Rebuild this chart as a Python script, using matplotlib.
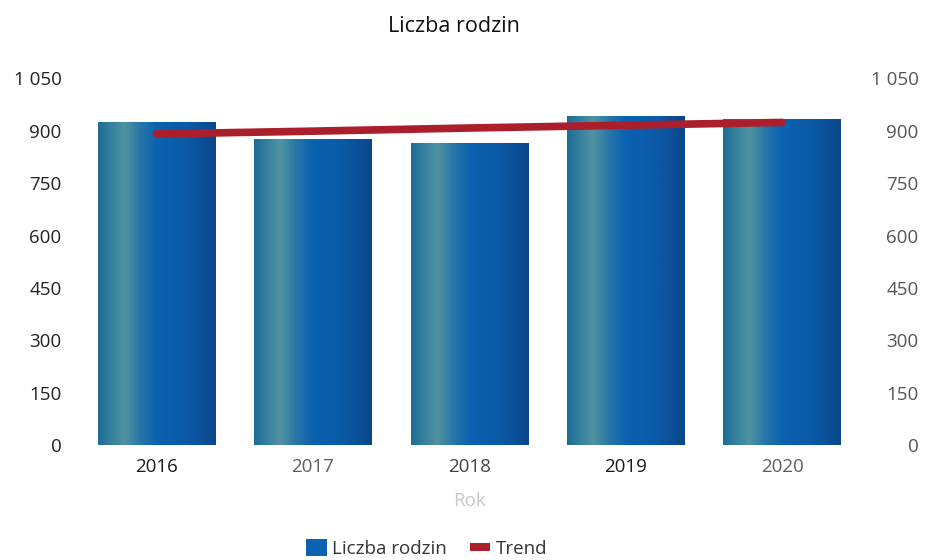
import numpy as np
import matplotlib
matplotlib.use("Agg")
import matplotlib.pyplot as plt
from matplotlib.colors import LinearSegmentedColormap
from matplotlib.patches import Patch

years = ["2016", "2017", "2018", "2019", "2020"]
families = [924, 876, 864, 941, 933]
trend = [891, 899, 908, 916, 924]
yticks = [0, 150, 300, 450, 600, 750, 900, 1050]
ytick_labels = ["0", "150", "300", "450", "600", "750", "900", "1 050"]

plt.rcParams['font.family'] = ['Open Sans', 'DejaVu Sans']

fig = plt.figure(figsize=(9.32, 5.60), dpi=100)
ax = fig.add_axes([0.084, 0.205, 0.839, 0.655])

x = np.arange(len(years))
width = 0.75
bars = ax.bar(x, families, width=width, color="none", edgecolor="none", zorder=2)

cmap = LinearSegmentedColormap.from_list(
    "cyl", [(0.0, "#1d6c96"), (0.1, "#347f9e"), (0.22, "#5093a0"), (0.35, "#2a78a8"),
            (0.5, "#0a62b0"), (0.75, "#0b5aa6"), (0.9, "#0b4f98"), (1.0, "#0a4688")])
grad = np.linspace(0, 1, 256).reshape(1, -1)
for b in bars:
    x0, y0 = b.get_x(), b.get_y()
    w, h = b.get_width(), b.get_height()
    im = ax.imshow(grad, cmap=cmap, aspect="auto", extent=[x0, x0 + w, y0, y0 + h],
                   zorder=2, interpolation="bicubic")
    im.set_clip_path(b)

ax.plot(x, trend, color="#ab1f2c", linewidth=5.5, solid_capstyle="round", zorder=3)

fs = 13.5
ax.set_xlim(-0.5, len(years) - 0.5)
ax.set_ylim(0, 1050)
ax.set_yticks(yticks)
ax.set_yticklabels(ytick_labels, fontsize=fs, color="#222222")
ax.set_xticks(x)
ax.set_xticklabels(years, fontsize=fs)
xcolors = ["#1a1a1a", "#5a6060", "#444444", "#1a1a1a", "#5a6060"]
for t, c in zip(ax.get_xticklabels(), xcolors):
    t.set_color(c)
ax.tick_params(axis="both", length=0, pad=9)
ax.tick_params(axis="y", pad=12)
for s in ax.spines.values():
    s.set_visible(False)
ax.set_xlabel("Rok", fontsize=fs, color="#c8c8c8", labelpad=12)

ax2 = ax.twinx()
ax2.set_ylim(0, 1050)
ax2.set_yticks(yticks)
ax2.set_yticklabels(ytick_labels, fontsize=fs, color="#555555", ha="right")
ax2.tick_params(axis="y", length=0, pad=42)
for s in ax2.spines.values():
    s.set_visible(False)

fig.text(0.487, 0.953, "Liczba rodzin", fontsize=15.5, color="#111111",
         ha="center", va="center")

handles = [Patch(facecolor="#0a62b0", edgecolor="none"),
           Patch(facecolor="#ab1f2c", edgecolor="none")]
leg = fig.legend(handles, ["Liczba rodzin", "Trend"], loc="lower center",
                 bbox_to_anchor=(0.458, -0.026), ncol=2, frameon=False, fontsize=fs,
                 handlelength=1.1, handleheight=1.0, handletextpad=0.3,
                 columnspacing=1.2, labelcolor="#333333")
# make trend handle look like a short thick bar
h1 = leg.legend_handles[1]
hh = h1.get_height()
h1.set_height(hh * 0.5)
h1.set_y(h1.get_y() + hh * 0.25)

fig.savefig("out.png", dpi=100)
